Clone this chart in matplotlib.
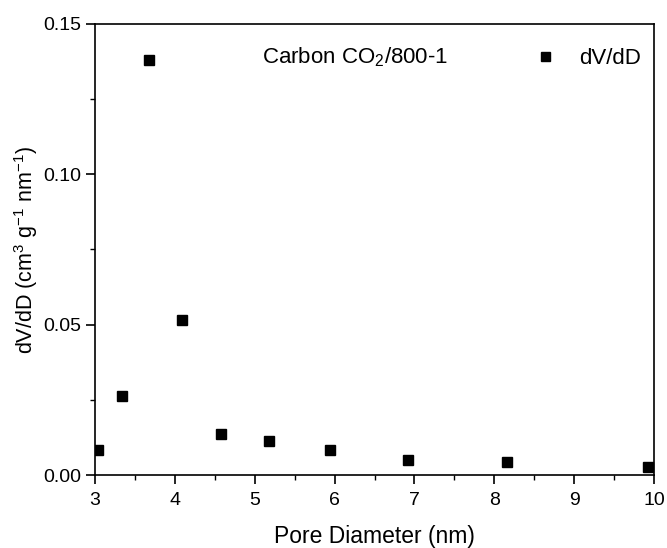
import numpy as np
import matplotlib
matplotlib.use("Agg")
import matplotlib.pyplot as plt
from matplotlib.ticker import MultipleLocator, FormatStrFormatter

# data
pore_d = [3.04, 3.34, 3.67, 4.085, 4.574, 5.183, 5.94, 6.915, 8.155, 9.925]
dv_dd = [0.0083, 0.0264, 0.1381, 0.0515, 0.0137, 0.0112, 0.0082, 0.0049, 0.0042, 0.0026]

plt.rcParams['font.family'] = ['Liberation Sans', 'DejaVu Sans']
plt.rcParams['mathtext.fontset'] = 'custom'
plt.rcParams['mathtext.rm'] = 'Liberation Sans'
plt.rcParams['mathtext.it'] = 'Liberation Sans:italic'
plt.rcParams['mathtext.default'] = 'rm'

fig = plt.figure(figsize=(6.67, 5.48), dpi=100)
ax = fig.add_axes([95 / 667, 1 - 475 / 548, (654 - 95) / 667, (475 - 24) / 548])

ax.plot(pore_d, dv_dd, 's', color='black', markersize=7.2, label='dV/dD')

ax.set_xlim(3, 10)
ax.set_ylim(0, 0.15)
ax.xaxis.set_major_locator(MultipleLocator(1))
ax.xaxis.set_minor_locator(MultipleLocator(0.5))
ax.yaxis.set_major_locator(MultipleLocator(0.05))
ax.yaxis.set_minor_locator(MultipleLocator(0.025))
ax.yaxis.set_major_formatter(FormatStrFormatter('%.2f'))
ax.tick_params(which='major', direction='out', length=6.5, width=1.2, labelsize=14)
ax.tick_params(which='minor', direction='out', length=3.6, width=1.0)
ax.tick_params(axis='x', which='major', pad=6)
ax.tick_params(top=False, right=False)
for s in ax.spines.values():
    s.set_linewidth(1.2)

ax.set_xlabel('Pore Diameter (nm)', fontsize=16.5, labelpad=11)
ax.set_ylabel(r'dV/dD (cm$^3$ g$^{-1}$ nm$^{-1}$)', fontsize=15.5, labelpad=2)

ax.text(0.299, 0.927, r'Carbon CO$_2$/800-1', transform=ax.transAxes,
        fontsize=16, va='center', ha='left')
leg = ax.legend(loc='upper right', bbox_to_anchor=(1.0, 0.976), frameon=False,
                fontsize=16, handletextpad=0.9, handlelength=1.2,
                borderaxespad=0.2, markerscale=0.9)

fig.savefig('out.png', dpi=100)
